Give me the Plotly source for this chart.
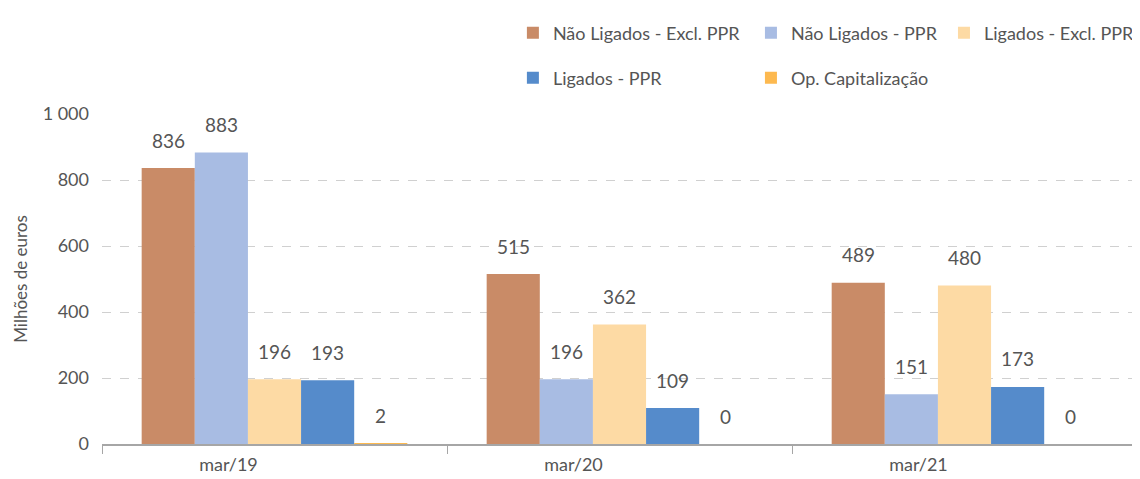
import plotly.graph_objects as go

categories = ["mar/19", "mar/20", "mar/21"]
series_names = ["Não Ligados - Excl. PPR", "Não Ligados - PPR", "Ligados - Excl. PPR",
                "Ligados - PPR", "Op. Capitalização"]
nao_ligados_excl = [836, 515, 489]
nao_ligados_ppr = [883, 196, 151]
ligados_excl = [196, 362, 480]
ligados_ppr = [193, 109, 173]
op_capitalizacao = [2, 0, 0]
series_values = [nao_ligados_excl, nao_ligados_ppr, ligados_excl, ligados_ppr, op_capitalizacao]
colors = ["#C98B67", "#A8BCE3", "#FDDAA4", "#558BCB", "#FDB94F"]
y_ticks = [0, 200, 400, 600, 800, 1000]

FONT = "Lato"
GREY = "#555555"

W, H = 1140, 479
ML, MR, MT, MB = 94, 11, 106, 43
BARGAP = 0.23
n_series = len(series_names)
plot_w = W - ML - MR
cat_w = plot_w / len(categories)
bar_w = cat_w * (1 - BARGAP) / n_series

# legend positions (paper coords), one legend per entry
legend_pos = [(0.397, 1.245), (0.627, 1.245), (0.8135, 1.245), (0.397, 1.109), (0.627, 1.109)]
legend_ids = ["legend", "legend2", "legend3", "legend4", "legend5"]

fig = go.Figure()
annotations = []
for i, (name, vals, col, lid) in enumerate(zip(series_names, series_values, colors, legend_ids)):
    fig.add_trace(go.Bar(
        x=categories, y=vals, name=name, marker=dict(color=col, line=dict(width=0)),
        cliponaxis=False, legend=lid,
    ))
    for c, v in zip(categories, vals):
        annotations.append(dict(
            x=c, y=v, xref="x", yref="y", text=str(v), showarrow=False,
            xanchor="center", yanchor="middle",
            xshift=(i - (n_series - 1) / 2) * bar_w, yshift=28,
            font=dict(family=FONT, size=19, color=GREY),
        ))

layout_legends = {}
for lid, (lx, ly) in zip(legend_ids, legend_pos):
    layout_legends[lid] = dict(x=lx, y=ly, xanchor="left", yanchor="middle",
                               orientation="h", bgcolor="rgba(0,0,0,0)",
                               font=dict(family=FONT, size=18, color=GREY))

fig.update_layout(
    width=W, height=H,
    margin=dict(l=ML, r=MR, t=MT, b=MB, autoexpand=False),
    paper_bgcolor="white", plot_bgcolor="white",
    barmode="group", bargap=BARGAP, bargroupgap=0,
    separators=", ",
    font=dict(family=FONT, size=16, color=GREY),
    showlegend=True,
    annotations=annotations,
    **layout_legends,
)
fig.update_xaxes(
    showline=True, linecolor="#A6A6A6", linewidth=1.5,
    ticks="outside", tickson="boundaries", ticklen=8, tickcolor="#A6A6A6",
    tickfont=dict(family=FONT, size=18, color=GREY),
    ticklabelshift=-46, ticklabelstandoff=4,
    showgrid=False, automargin=False,
)
fig.update_yaxes(
    range=[0, 1000], tickvals=y_ticks, tickformat=",d",
    showgrid=True, gridcolor="#D0D0D0", griddash="dash", gridwidth=1,
    zeroline=False, showline=False, ticks="", ticklabelstandoff=12,
    tickfont=dict(family=FONT, size=18, color=GREY), automargin=False,
    title=dict(text="Milhões de euros", font=dict(family=FONT, size=17, color=GREY), standoff=10),
)
fig.write_html("out.html")
